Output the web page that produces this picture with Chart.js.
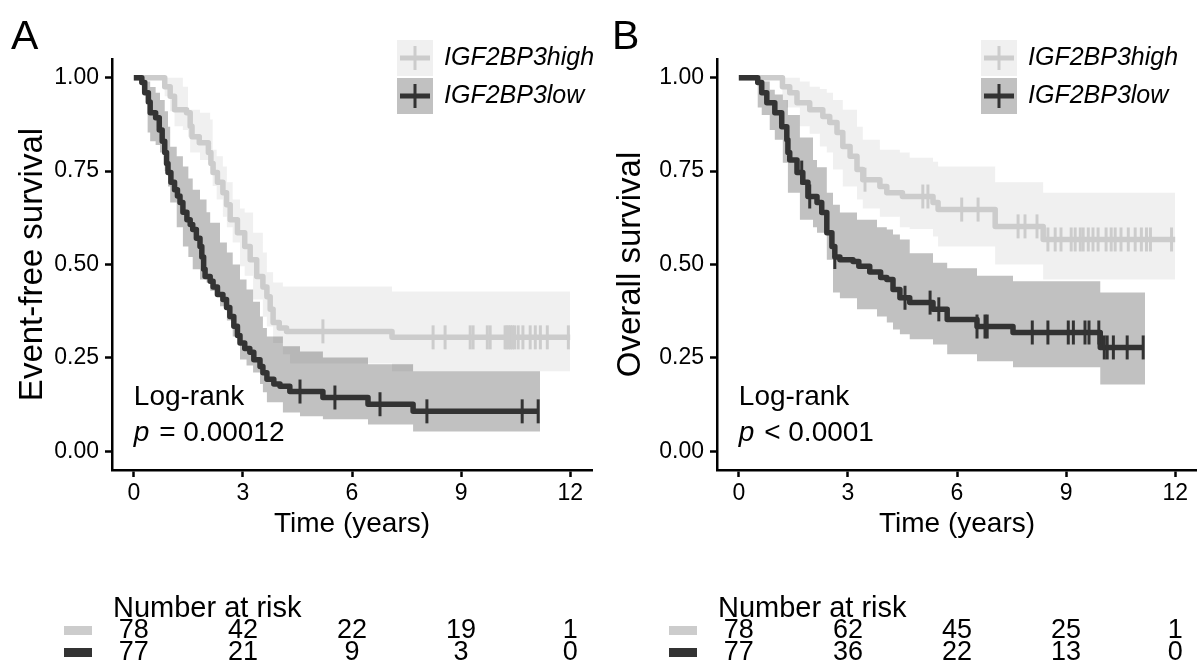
<!DOCTYPE html>
<html>
<head>
<meta charset="utf-8">
<script src="https://cdn.jsdelivr.net/npm/chart.js@4.4.1/dist/chart.umd.min.js"></script>
<style>
  html, body { margin: 0; padding: 0; background: #fff; }
  body { width: 1197px; height: 668px; position: relative; overflow: hidden; }
  canvas { position: absolute; top: 0; }
  #panelA { left: 0; }
  #panelB { left: 598px; }
</style>
</head>
<body>
<canvas id="panelA" width="598" height="668"></canvas>
<canvas id="panelB" width="599" height="668"></canvas>
<script>
// assi e tabella "number at risk"
const xTicks = [0, 3, 6, 9, 12];
const yTicks = [0, 0.25, 0.5, 0.75, 1];
const riskTimes = [0, 3, 6, 9, 12];
const groupNames = ['IGF2BP3high', 'IGF2BP3low'];

// A - event-free survival, gruppo high
const efsHighTime = [0, 0.85, 1.0, 1.12, 1.45, 1.55, 1.6, 1.8, 2.05, 2.12, 2.18, 2.3, 2.45, 2.55, 2.65, 2.85, 3.05, 3.2, 3.38, 3.55, 3.66, 3.75, 3.83, 4.0, 4.2, 7.1, 12];
const efsHighSurv = [1, 0.976, 0.95, 0.914, 0.906, 0.87, 0.842, 0.826, 0.8, 0.77, 0.746, 0.72, 0.692, 0.66, 0.62, 0.585, 0.548, 0.513, 0.468, 0.44, 0.414, 0.38, 0.345, 0.33, 0.321, 0.305, 0.305];
const efsHighCensor = [5.2, 8.23, 8.56, 9.25, 9.33, 9.72, 9.8, 10.21, 10.26, 10.31, 10.36, 10.41, 10.47, 10.57, 10.7, 10.9, 11.04, 11.18, 11.37, 11.95];
const efsHighCiTime = [0, 0.85, 1.0, 1.12, 1.35, 1.49, 1.55, 1.82, 2.1, 2.17, 2.28, 2.45, 2.56, 2.72, 2.92, 3.05, 3.28, 3.55, 3.66, 3.83, 4.1, 4.3, 7.1, 12];
const efsHighUpper = [1, 1, 1, 1, 0.976, 0.914, 0.914, 0.906, 0.888, 0.807, 0.79, 0.762, 0.72, 0.674, 0.65, 0.639, 0.585, 0.532, 0.479, 0.452, 0.441, 0.441, 0.428, 0.428];
const efsHighLower = [1, 0.95, 0.91, 0.87, 0.86, 0.842, 0.8, 0.78, 0.74, 0.71, 0.674, 0.628, 0.6, 0.559, 0.495, 0.47, 0.406, 0.36, 0.334, 0.29, 0.26, 0.235, 0.214, 0.214];

// A - event-free survival, gruppo low
const efsLowTime = [0, 0.22, 0.3, 0.4, 0.45, 0.6, 0.7, 0.78, 0.85, 0.9, 0.94, 1.02, 1.12, 1.2, 1.27, 1.35, 1.46, 1.55, 1.62, 1.72, 1.82, 1.87, 1.92, 1.96, 2.1, 2.18, 2.3, 2.45, 2.55, 2.64, 2.75, 2.85, 2.92, 3.05, 3.19, 3.3, 3.47, 3.55, 3.66, 3.85, 4.02, 4.29, 5.2, 6.44, 7.68, 11.12];
const efsLowSurv = [1, 0.987, 0.96, 0.935, 0.906, 0.893, 0.86, 0.83, 0.8, 0.77, 0.746, 0.72, 0.7, 0.683, 0.666, 0.64, 0.62, 0.607, 0.594, 0.57, 0.548, 0.52, 0.487, 0.468, 0.455, 0.44, 0.42, 0.406, 0.385, 0.361, 0.335, 0.31, 0.29, 0.275, 0.265, 0.245, 0.227, 0.21, 0.193, 0.18, 0.174, 0.16, 0.144, 0.126, 0.107, 0.107];
const efsLowCensor = [4.57, 5.53, 6.77, 8.06, 10.68, 11.12];
const efsLowCiTime = [0, 0.22, 0.38, 0.45, 0.6, 0.72, 0.85, 0.94, 1.0, 1.18, 1.35, 1.5, 1.62, 1.82, 2.0, 2.1, 2.37, 2.56, 2.72, 2.92, 3.1, 3.28, 3.47, 3.55, 3.66, 4.1, 4.57, 5.2, 6.44, 7.68, 11.17];
const efsLowUpper = [1, 1, 0.99, 0.975, 0.96, 0.94, 0.91, 0.869, 0.815, 0.79, 0.762, 0.73, 0.7, 0.674, 0.64, 0.612, 0.559, 0.532, 0.5, 0.46, 0.433, 0.4, 0.361, 0.33, 0.307, 0.281, 0.267, 0.251, 0.233, 0.214, 0.214];
const efsLowLower = [1, 0.96, 0.853, 0.83, 0.82, 0.8, 0.75, 0.709, 0.666, 0.6, 0.548, 0.52, 0.487, 0.46, 0.452, 0.43, 0.388, 0.35, 0.307, 0.246, 0.23, 0.211, 0.18, 0.158, 0.131, 0.104, 0.094, 0.086, 0.072, 0.053, 0.053];

// B - overall survival, gruppo high
const osHighTime = [0, 1.2, 1.4, 1.6, 1.95, 2.31, 2.5, 2.7, 2.86, 3.06, 3.25, 3.41, 3.88, 4.07, 4.5, 5.34, 5.48, 7.05, 8.37, 12];
const osHighSurv = [1, 0.976, 0.96, 0.933, 0.914, 0.896, 0.88, 0.853, 0.816, 0.79, 0.754, 0.727, 0.709, 0.692, 0.682, 0.666, 0.647, 0.602, 0.567, 0.567];
const osHighCensor = [3.47, 5.06, 5.2, 6.13, 6.58, 7.68, 7.87, 8.2, 8.5, 8.7, 8.86, 9.14, 9.25, 9.39, 9.47, 9.61, 9.74, 9.88, 10.1, 10.24, 10.35, 10.51, 10.71, 10.9, 11.07, 11.21, 11.32, 11.9];
const osHighCiTime = [0, 1.07, 1.2, 1.32, 1.68, 1.95, 2.23, 2.42, 2.59, 2.86, 3.25, 3.41, 3.88, 4.43, 4.7, 5.34, 5.48, 7.05, 8.37, 12];
const osHighUpper = [1, 1, 1, 1, 0.99, 0.976, 0.97, 0.96, 0.94, 0.914, 0.869, 0.834, 0.807, 0.8, 0.786, 0.775, 0.762, 0.72, 0.692, 0.692];
const osHighLower = [1, 1, 0.94, 0.92, 0.87, 0.85, 0.816, 0.8, 0.754, 0.709, 0.674, 0.65, 0.628, 0.6, 0.595, 0.575, 0.548, 0.5, 0.46, 0.46];

// B - overall survival, gruppo low
const osLowTime = [0, 0.52, 0.63, 0.77, 0.99, 1.18, 1.32, 1.35, 1.4, 1.6, 1.76, 1.9, 2.15, 2.28, 2.42, 2.56, 2.64, 2.78, 3.14, 3.3, 3.6, 3.9, 4.07, 4.24, 4.43, 4.7, 5.34, 5.73, 6.55, 7.54, 9.94, 11.12];
const osLowSurv = [1, 0.987, 0.96, 0.933, 0.906, 0.869, 0.834, 0.8, 0.78, 0.746, 0.72, 0.682, 0.666, 0.639, 0.585, 0.548, 0.52, 0.513, 0.508, 0.495, 0.48, 0.465, 0.46, 0.433, 0.411, 0.398, 0.38, 0.353, 0.334, 0.318, 0.278, 0.278];
const osLowCensor = [1.73, 1.95, 2.64, 4.57, 5.26, 5.5, 6.55, 6.77, 6.83, 8.07, 8.5, 9.06, 9.2, 9.52, 9.63, 9.9, 10.05, 10.13, 10.3, 10.68, 11.12];
const osLowCiTime = [0, 0.3, 0.52, 0.63, 0.85, 0.99, 1.21, 1.35, 1.68, 2.04, 2.15, 2.42, 2.59, 2.78, 3.25, 3.8, 4.07, 4.24, 4.43, 4.7, 5.34, 5.73, 6.55, 7.54, 9.94, 11.17];
const osLowUpper = [1, 1, 1, 0.99, 0.968, 0.955, 0.94, 0.9, 0.84, 0.78, 0.76, 0.692, 0.66, 0.639, 0.62, 0.6, 0.594, 0.58, 0.567, 0.53, 0.505, 0.49, 0.47, 0.455, 0.425, 0.425];
const osLowLower = [1, 1, 0.92, 0.9, 0.86, 0.834, 0.772, 0.692, 0.62, 0.6, 0.585, 0.513, 0.425, 0.41, 0.38, 0.361, 0.345, 0.326, 0.313, 0.3, 0.286, 0.26, 0.241, 0.225, 0.179, 0.179];

// numeri a rischio
const efsRiskHigh = [78, 42, 22, 19, 1];
const efsRiskLow = [77, 21, 9, 3, 0];
const osRiskHigh = [78, 62, 45, 25, 1];
const osRiskLow = [77, 36, 22, 13, 0];

const FONT = '"Liberation Sans", Arial, Helvetica, sans-serif';
const lightLine = '#cccccc', darkLine = '#333333';
const lightFill = 'rgba(204,204,204,0.3)', darkFill = 'rgba(51,51,51,0.3)';

function pts(t, v) { return t.map((x, i) => ({ x: x, y: v[i] })); }
function survAt(t, s, x) {
  let v = s[0];
  for (let i = 0; i < t.length; i++) { if (t[i] <= x) v = s[i]; }
  return v;
}

function bandSets(t, up, lo, fill, order) {
  return [
    { data: pts(t, up), stepped: true, borderWidth: 0, pointRadius: 0, fill: '+1', backgroundColor: fill, order: order },
    { data: pts(t, lo), stepped: true, borderWidth: 0, pointRadius: 0, fill: false, order: order }
  ];
}
function curveSet(t, s, col, order) {
  return { data: pts(t, s), stepped: true, borderColor: col, borderWidth: 5.5, borderJoinStyle: 'round', pointRadius: 0, fill: false, order: order };
}
function censorSet(ct, t, s, col, order) {
  return {
    data: ct.map(x => ({ x: x, y: survAt(t, s, x) })),
    showLine: false, pointStyle: 'line', pointRotation: 90, pointRadius: 12,
    pointBorderWidth: 3, pointBorderColor: col, borderColor: col, fill: false, order: order
  };
}

// scritte: lettera, legenda, log-rank, tabella a rischio
const annotPlugin = {
  id: 'annot',
  afterDraw(chart, args, o) {
    const c = chart.ctx, xs = chart.scales.x, area = chart.chartArea;
    c.save();
    c.textBaseline = 'middle';
    c.textAlign = 'left';
    c.fillStyle = '#000';
    c.font = '41px ' + FONT;
    c.fillText(o.letter, o.letterX, 38);

    // legenda
    const cols = [[lightFill, lightLine], [darkFill, darkLine]];
    groupNames.forEach((name, i) => {
      const top = 40 + i * 38;
      c.fillStyle = '#fff';
      c.fillRect(o.legX, top, 36, 36);
      c.fillStyle = cols[i][0];
      c.fillRect(o.legX, top, 36, 36);
      c.fillStyle = cols[i][1];
      c.fillRect(o.legX + 3, top + 15.5, 30, 5);
      c.fillRect(o.legX + 16.5, top + 6, 3, 24);
      c.fillStyle = '#000';
      c.font = 'italic 25px ' + FONT;
      c.fillText(name, o.legX + 47, top + 18);
    });

    // log-rank
    const lx = xs.getPixelForValue(0);
    c.font = '28px ' + FONT;
    c.fillText('Log-rank', lx, 397);
    c.font = 'italic 28px ' + FONT;
    c.fillText('p', lx, 433);
    const pw = c.measureText('p').width;
    c.font = '28px ' + FONT;
    c.fillText(o.pText, lx + pw + 2, 433);

    // number at risk
    c.font = '29px ' + FONT;
    c.fillText('Number at risk', area.left + 1, 609);
    c.textAlign = 'center';
    c.font = '27px ' + FONT;
    const rows = [[o.riskHigh, lightLine, 631], [o.riskLow, darkLine, 653]];
    rows.forEach(r => {
      c.fillStyle = r[1];
      c.fillRect(area.left - 48, r[2] - 5, 28, 9);
      c.fillStyle = '#000';
      riskTimes.forEach((t, i) => c.fillText(String(r[0][i]), xs.getPixelForValue(t), r[2]));
    });
    c.restore();
  }
};

function kmPanel(id, d) {
  const datasets = [].concat(
    bandSets(d.hiCiT, d.hiUp, d.hiLo, lightFill, 6),
    bandSets(d.loCiT, d.loUp, d.loLo, darkFill, 5),
    [curveSet(d.hiT, d.hiS, lightLine, 4),
     curveSet(d.loT, d.loS, darkLine, 3),
     censorSet(d.hiC, d.hiT, d.hiS, lightLine, 2),
     censorSet(d.loC, d.loT, d.loS, darkLine, 1)]
  );
  const axisGrid = { drawOnChartArea: false, color: '#000', tickLength: 7, tickWidth: 2.5 };
  const axisBorder = { color: '#000', width: 2.5 };
  return new Chart(document.getElementById(id), {
    type: 'line',
    data: { datasets: datasets },
    options: {
      responsive: false,
      animation: false,
      events: [],
      layout: { autoPadding: false, padding: { left: 12, right: d.padRight, top: 59, bottom: 123 } },
      plugins: { legend: { display: false }, tooltip: { enabled: false }, annot: d.annot },
      scales: {
        x: {
          type: 'linear', min: -0.6, max: 12.6,
          afterBuildTicks: s => { s.ticks = xTicks.map(v => ({ value: v })); },
          afterFit: s => { s.height = 75; s.paddingLeft = 0; s.paddingRight = 0; },
          grid: axisGrid, border: axisBorder,
          ticks: { color: '#000', font: { family: FONT, size: 23 }, padding: 3, maxRotation: 0 },
          title: { display: true, text: 'Time (years)', color: '#000', font: { family: FONT, size: 28 }, padding: { top: 0, bottom: 4 } }
        },
        y: {
          type: 'linear', min: -0.05, max: 1.05,
          afterBuildTicks: s => { s.ticks = yTicks.map(v => ({ value: v })); },
          afterFit: s => { s.width = d.yWidth; s.paddingTop = 0; s.paddingBottom = 0; },
          grid: axisGrid, border: axisBorder,
          ticks: { color: '#000', font: { family: FONT, size: 23 }, padding: 6, callback: v => v.toFixed(2) },
          title: { display: true, text: d.yTitle, color: '#000', font: { family: FONT, size: 33 }, padding: { top: 1, bottom: 0 } }
        }
      }
    },
    plugins: [annotPlugin]
  });
}

kmPanel('panelA', {
  hiT: efsHighTime, hiS: efsHighSurv, hiC: efsHighCensor, hiCiT: efsHighCiTime, hiUp: efsHighUpper, hiLo: efsHighLower,
  loT: efsLowTime, loS: efsLowSurv, loC: efsLowCensor, loCiT: efsLowCiTime, loUp: efsLowUpper, loLo: efsLowLower,
  yTitle: 'Event-free survival', yWidth: 100, padRight: 6,
  annot: { letter: 'A', letterX: 11, legX: 397, pText: ' = 0.00012', riskHigh: efsRiskHigh, riskLow: efsRiskLow }
});

kmPanel('panelB', {
  hiT: osHighTime, hiS: osHighSurv, hiC: osHighCensor, hiCiT: osHighCiTime, hiUp: osHighUpper, hiLo: osHighLower,
  loT: osLowTime, loS: osLowSurv, loC: osLowCensor, loCiT: osLowCiTime, loUp: osLowUpper, loLo: osLowLower,
  yTitle: 'Overall survival', yWidth: 107, padRight: 0,
  annot: { letter: 'B', letterX: 14, legX: 383, pText: ' < 0.0001', riskHigh: osRiskHigh, riskLow: osRiskLow }
});
</script>
</body>
</html>
